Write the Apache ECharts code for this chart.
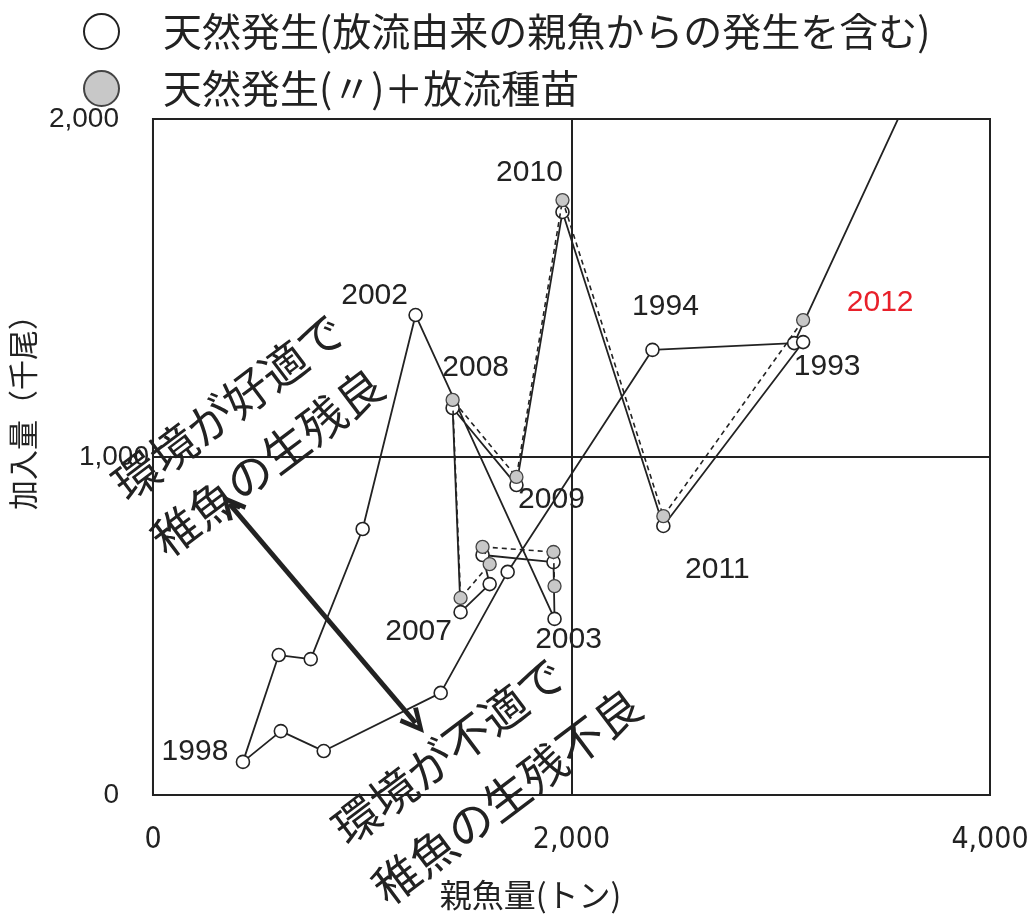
<!DOCTYPE html>
<html>
<head>
<meta charset="utf-8">
<script src="https://cdn.jsdelivr.net/npm/echarts@6.0.0/dist/echarts.min.js"></script>
<style>
  html, body { margin: 0; padding: 0; background: #fff; }
  #chart { width: 1035px; height: 919px; }
</style>
</head>
<body>
<div id="chart"></div>
<script>
// ---- data ----
const seriesNames = ['天然発生(放流由来の親魚からの発生を含む)', '天然発生(〃)＋放流種苗'];
const xTicks = [0, 2000, 4000];
const yTicks = [0, 1000, 2000];

// natural recruitment, in drawing order (first point lies beyond the plotted range)
const openX = [3800, 3064, 2387, 1695, 1375, 816, 611, 430, 601, 754, 1002, 1255, 1919, 1914, 1575, 1609, 1470, 1432, 1737, 1957, 2439, 3107];
const openY = [2320, 1337, 1317, 660, 302, 130, 189, 98, 414, 402, 787, 1420, 521, 689, 710, 624, 541, 1145, 917, 1725, 796, 1340];
const openLabels = ['', '1993', '1994', '', '', '', '', '1998', '', '', '', '2002', '2003', '', '', '', '2007', '', '2009', '', '2011', ''];

// natural + released seedlings, 2003-2012
const greyX = [1919, 1914, 1575, 1609, 1470, 1432, 1737, 1957, 2439, 3107];
const greyY = [618, 719, 734, 683, 583, 1169, 941, 1760, 825, 1405];
const greyLabels = ['', '', '', '', '', '2008', '', '2010', '', '2012'];

// arrow endpoints (data units)
const arrowFrom = [370, 858];
const arrowTo = [1255, 213];

const noteGood = ['環境が好適で', '稚魚の生残良'];
const noteBad = ['環境が不適で', '稚魚の生残不良'];

// ---- styling ----
const INK = '#222';
const labelOffsets = {
  '1993': [33, 24], '1994': [13, -43], '1998': [-48, -10], '2002': [-41, -19],
  '2003': [14, 21], '2007': [-42, 20], '2009': [35, 15], '2011': [54, 44],
  '2008': [23, -32], '2010': [-33, -27], '2012': [77, -17]
};
const labelColors = { '2012': '#e8202a' };
const numFont = 'Liberation Sans';
const narrowFont = '"Liberation Sans Narrow", "DejaVu Sans Condensed", "Liberation Sans", sans-serif';
const cjkFont = 'Noto Sans CJK JP';

function buildData(xs, ys, labels) {
  return xs.map((x, i) => {
    const item = { value: [x, ys[i]] };
    const t = labels[i];
    if (t) {
      item.label = {
        show: true, position: 'inside', formatter: t,
        offset: labelOffsets[t], color: labelColors[t] || INK,
        fontSize: 30, fontFamily: numFont
      };
    }
    return item;
  });
}

const chart = echarts.init(document.getElementById('chart'), null, { renderer: 'canvas' });

const rad = Math.PI / 180;
function noteText(x, y, text, size) {
  return {
    type: 'text', x: x, y: y, rotation: 37 * rad,
    style: { text: text, fill: INK, font: size + 'px "' + cjkFont + '"', align: 'left', verticalAlign: 'middle' },
    z: 50
  };
}

const option = {
  animation: false,
  backgroundColor: '#fff',
  textStyle: { fontFamily: numFont },
  grid: { left: 152, right: 45, top: 119, bottom: 124, show: true, borderColor: INK, borderWidth: 2, containLabel: false },
  legend: {
    orient: 'vertical', left: 83, top: 12, padding: 0, itemWidth: 35, itemHeight: 37, itemGap: 18,
    selectedMode: false,
    data: [
      { name: seriesNames[0], icon: 'circle', itemStyle: { color: '#fff', borderColor: INK, borderWidth: 2 } },
      { name: seriesNames[1], icon: 'circle', itemStyle: { color: '#c8c8c8', borderColor: '#444', borderWidth: 2 } }
    ],
    textStyle: { fontSize: 39, fontFamily: cjkFont, color: INK, lineHeight: 39, padding: [0, 0, 0, 39] }
  },
  xAxis: {
    type: 'value', min: xTicks[0], max: xTicks[xTicks.length - 1], interval: xTicks[1] - xTicks[0],
    name: '親魚量(トン)', nameLocation: 'middle', nameGap: 84,
    nameTextStyle: { fontSize: 32, fontFamily: cjkFont, color: INK, padding: [0, 82, 0, 0] },
    axisLine: { show: true, lineStyle: { color: INK, width: 2 } },
    axisTick: { show: false },
    axisLabel: {
      fontSize: 30, fontFamily: narrowFont, color: INK, margin: 30,
      formatter: v => v.toLocaleString('en-US')
    },
    splitLine: { show: true, lineStyle: { color: INK, width: 2 } }
  },
  yAxis: {
    type: 'value', min: yTicks[0], max: yTicks[yTicks.length - 1], interval: yTicks[1] - yTicks[0],
    name: '加入量（千尾）', nameLocation: 'middle', nameRotate: 90, nameGap: 112,
    nameTextStyle: { fontSize: 30, fontFamily: cjkFont, color: INK, padding: [0, 0, 0, 104] },
    axisLine: { show: true, lineStyle: { color: INK, width: 2 } },
    axisTick: { show: false },
    axisLabel: {
      color: INK, margin: 4,
      formatter: v => v === 1000 ? '{m|' + v.toLocaleString('en-US') + '}' : '{e|' + v.toLocaleString('en-US') + '}',
      rich: {
        m: { fontSize: 28, fontFamily: numFont, color: INK },
        e: { fontSize: 28, fontFamily: numFont, color: INK, padding: [0, 30, 0, 0] }
      }
    },
    splitLine: { show: true, lineStyle: { color: INK, width: 2 } }
  },
  series: [
    {
      name: seriesNames[0], type: 'line', clip: true, z: 3,
      data: buildData(openX, openY, openLabels),
      symbol: 'circle', symbolSize: 13,
      lineStyle: { color: INK, width: 1.8, type: 'solid' },
      itemStyle: { color: '#fff', borderColor: INK, borderWidth: 1.6 },
      emphasis: { disabled: true },
      markLine: {
        silent: true, animation: false,
        symbol: ['path://M10,0 L20,19 L16.5,21 L10,8 L3.5,21 L0,19 Z', 'path://M10,0 L20,19 L16.5,21 L10,8 L3.5,21 L0,19 Z'],
        symbolSize: [24, 26],
        label: { show: false },
        lineStyle: { color: INK, width: 5, type: 'solid' },
        data: [[{ coord: arrowFrom }, { coord: arrowTo }]]
      }
    },
    {
      name: seriesNames[1], type: 'line', clip: true, z: 4,
      data: buildData(greyX, greyY, greyLabels),
      symbol: 'circle', symbolSize: 13,
      lineStyle: { color: INK, width: 1.6, type: [5, 4] },
      itemStyle: { color: '#c8c8c8', borderColor: '#444', borderWidth: 1.3 },
      emphasis: { disabled: true }
    }
  ],
  graphic: [
    noteText(118, 490, noteGood[0], 46),
    noteText(157, 545, noteGood[1], 46),
    noteText(338, 834, noteBad[0], 46),
    noteText(378, 893, noteBad[1], 46)
  ]
};

chart.setOption(option);
</script>
</body>
</html>
